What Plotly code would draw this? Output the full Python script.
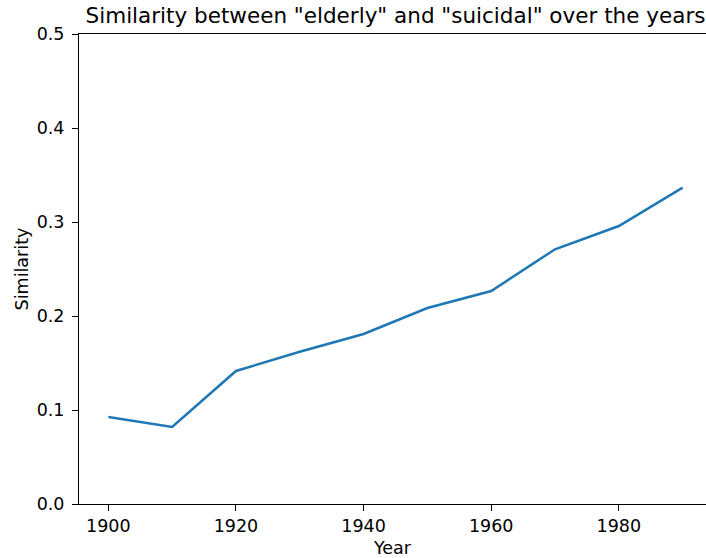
import plotly.graph_objects as go

years = [1900, 1910, 1920, 1930, 1940, 1950, 1960, 1970, 1980, 1990]
similarity = [0.0926, 0.0819, 0.1415, 0.162, 0.1809, 0.2085, 0.2266, 0.271, 0.2957, 0.3365]
x_ticks = [1900, 1920, 1940, 1960, 1980]
y_ticks = [0.0, 0.1, 0.2, 0.3, 0.4, 0.5]
title_text = 'Similarity between "elderly" and "suicidal" over the years'

FONT = "DejaVu Sans"
TICK_SIZE = 17.5
LABEL_SIZE = 17.5
TITLE_SIZE = 21.5

fig = go.Figure()
fig.add_trace(go.Scatter(
    x=years, y=similarity, mode="lines",
    line=dict(color="#1f77b4", width=2.5),
    showlegend=False,
))

fig.update_layout(
    width=706, height=558,
    margin=dict(l=79, r=0, t=34, b=54),
    paper_bgcolor="white", plot_bgcolor="white",
    font=dict(family=FONT, size=TICK_SIZE, color="#000000"),
    title=dict(
        text=title_text, font=dict(family=FONT, size=TITLE_SIZE, color="#000000"),
        xref="paper", x=0.5048, xanchor="center",
        yref="container", y=1 - 15.2 / 558, yanchor="middle",
    ),
)

fig.update_xaxes(
    range=[1895.4, 1993.66], tickvals=x_ticks, ticktext=[str(v) for v in x_ticks],
    showgrid=False, zeroline=False,
    showline=True, linecolor="#000000", linewidth=1, mirror=True,
    ticks="outside", ticklen=6, tickwidth=1, tickcolor="#000000",
    tickfont=dict(family=FONT, size=TICK_SIZE, color="#000000"),
    title=dict(text="Year", font=dict(family=FONT, size=LABEL_SIZE, color="#000000"), standoff=7),
)
fig.update_yaxes(
    range=[0, 0.5], tickvals=y_ticks, ticktext=[f"{v:.1f}" for v in y_ticks],
    showgrid=False, zeroline=False,
    showline=True, linecolor="#000000", linewidth=1, mirror=False,
    ticks="outside", ticklen=6, tickwidth=1, tickcolor="#000000",
    ticklabelstandoff=4,
    tickfont=dict(family=FONT, size=TICK_SIZE, color="#000000"),
    title=dict(text="Similarity", font=dict(family=FONT, size=LABEL_SIZE, color="#000000"), standoff=3),
)

fig.write_html(
    "out.html",
    config={"displayModeBar": False},
    post_script="document.body.style.margin='0';",
)
